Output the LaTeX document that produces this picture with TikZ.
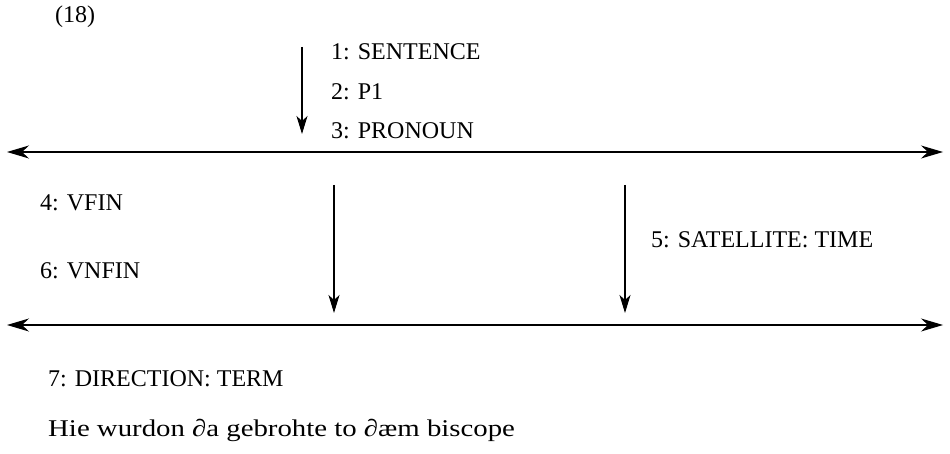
\documentclass[tikz,border=0pt]{standalone}
\usepackage{fontspec}
\setmainfont{Liberation Serif}
\newfontfamily\widefont[FakeStretch=1.2]{Liberation Serif}
\usetikzlibrary{arrows.meta}
\begin{document}
\begin{tikzpicture}[x=1pt,y=-1pt,
  lbl/.style={anchor=base west,inner sep=0pt,font=\fontsize{24}{28}\selectfont},
  conn/.style={line width=1.1pt,-{Stealth[length=18pt,width=11pt,inset=5pt]}},
  bar/.style={line width=1.1pt,{Stealth[length=22pt,width=13pt,inset=7pt]}-{Stealth[length=22pt,width=13pt,inset=7pt]}}]
\useasboundingbox (0,0) rectangle (950,454);
\node[lbl] (num) at (55,23) {(18)};
\node[lbl] (t1) at (331,60) {1: SENTENCE};
\node[lbl] (t2) at (331,100) {2: P1};
\node[lbl] (t3) at (331,139) {3: PRONOUN};
\node[lbl] (t4) at (40,211) {4: VFIN};
\node[lbl] (t6) at (40,279) {6: VNFIN};
\node[lbl] (t5) at (651,248) {5: SATELLITE: TIME};
\node[lbl] (t7) at (48,386) {7: DIRECTION: TERM};
\node[lbl,font=\widefont\fontsize{24}{28}\selectfont] (t8) at (48,436) {Hie wurdon ∂a gebrohte to ∂æm biscope};
\coordinate (a1s) at (302,47);
\coordinate (a1e) at (302,134);
\coordinate (a2s) at (334,185);
\coordinate (a2e) at (334,313);
\coordinate (a3s) at (625,185);
\coordinate (a3e) at (625,313);
\coordinate (l1a) at (7,152);
\coordinate (l1b) at (943,152);
\coordinate (l2a) at (7,325);
\coordinate (l2b) at (943,325);
\draw[conn] (a1s) -- (a1e);
\draw[conn] (a2s) -- (a2e);
\draw[conn] (a3s) -- (a3e);
\draw[bar] (l1a) -- (l1b);
\draw[bar] (l2a) -- (l2b);
\end{tikzpicture}
\end{document}
